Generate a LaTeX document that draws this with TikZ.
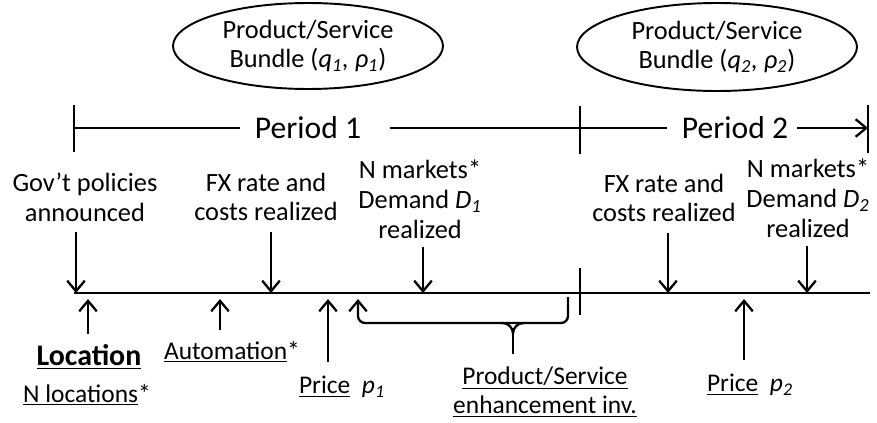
\documentclass[tikz,border=0pt]{standalone}
\usepackage{fontspec}
\setmainfont{Carlito}
\usetikzlibrary{shapes.geometric,arrows.meta}
\tikzstyle{bundle} = [draw, ellipse, line width=1.1pt, inner sep=0pt,
    minimum width=5.4cm, minimum height=1.72cm, align=center,
    font=\fontsize{15}{17}\selectfont]
\tikzstyle{event} = [align=center, inner sep=0pt, font=\fontsize{15}{17}\selectfont]
\tikzstyle{choice} = [align=center, inner sep=0pt, font=\fontsize{14.5}{16.5}\selectfont]
\tikzstyle{period} = [inner xsep=8pt, font=\fontsize{18}{20}\selectfont]
\tikzstyle{line} = [line width=1.3pt]
\tikzstyle{arr} = [line width=1.3pt, -{Straight Barb[length=6pt,width=10pt,line width=1.3pt]}]

\begin{document}
\begin{tikzpicture}[x=0.02cm, y=-0.02cm]
	\useasboundingbox (0,0) rectangle (877,423);

	% Bundles chosen in each period
	\node [bundle] (bun1) at (308,46) {Product/Service\\Bundle (\textit{q\textsubscript{1}, ρ\textsubscript{1}})};
	\node [bundle, minimum width=5.6cm, minimum height=1.76cm] (bun2) at (717,47)
		{Product/Service\\Bundle (\textit{q\textsubscript{2}, ρ\textsubscript{2}})};

	% Period bar
	\coordinate (p0) at (74,128);
	\coordinate (p1) at (580,128);
	\coordinate (p2) at (868,128);
	\node [period] (per1) at (308,128) {Period 1};
	\node [period] (per2) at (735,128) {Period 2};
	\draw [line] (p0) -- (per1);
	\draw [line] ([xshift=8pt]per1.east) -- (p1) -- (per2);
	\draw [arr] ([xshift=-3pt]per2.east) -- (p2);
	\draw [line] (p0) ++(0,-23) -- ++(0,47);
	\draw [line] (p1) ++(0,-22) -- ++(0,48);
	\draw [line] (p2) ++(0,-23) -- ++(0,48);

	% Time line
	\coordinate (t0) at (74,293);
	\coordinate (t1) at (870,293);
	\draw [line] (t0) -- (t1);
	\draw [line] (t0 -| p1) ++(0,-25) -- ++(0,47);

	% Events above the line
	\node [event] (gov) at (85,197) {Gov’t policies\\announced};
	\node [event] (fx1) at (266,197) {FX rate and\\costs realized};
	\node [event] (dem1) at (420,199) {N markets*\\Demand \textit{D\textsubscript{1}}\\realized};
	\node [event] (fx2) at (664,198) {FX rate and\\costs realized};
	\node [event] (dem2) at (808,198) {N markets*\\Demand \textit{D\textsubscript{2}}\\realized};

	\coordinate (egov) at (76,293);
	\coordinate (efx1) at (271,293);
	\coordinate (edem1) at (423,293);
	\coordinate (efx2) at (668,293);
	\coordinate (edem2) at (807,293);
	\draw [arr] ([yshift=-6pt]gov.south -| egov) -- (egov);
	\draw [arr] ([yshift=-6pt]fx1.south -| efx1) -- (efx1);
	\draw [arr] ([yshift=-5pt]dem1.south -| edem1) -- (edem1);
	\draw [arr] ([yshift=-6pt]fx2.south -| efx2) -- (efx2);
	\draw [arr] ([yshift=-5pt]dem2.south -| edem2) -- (edem2);

	% Choices below the line
	\node [choice, font=\fontsize{17}{19}\bfseries] (loc) at (89,357) {\underline{Location}};
	\node [choice] (nloc) at (87,395) {\underline{N locations}*};
	\node [choice] (auto) at (232,352) {\underline{Automation}*};
	\node [choice] (pr1) at (342,387) {\underline{Price}~ \textit{p\textsubscript{1}}};
	\node [choice] (enh) at (545,392) {\underline{Product/Service}\\\underline{enhancement inv.}};
	\node [choice] (pr2) at (750,385) {\underline{Price}~ \textit{p\textsubscript{2}}};

	\coordinate (cloc) at (88,299);
	\coordinate (cauto) at (220,299);
	\coordinate (cpr1) at (328,299);
	\coordinate (cpr2) at (744,299);
	\draw [arr] ([yshift=6pt]loc.north -| cloc) -- (cloc);
	\draw [arr] ([yshift=6pt]auto.north -| cauto) -- (cauto);
	\draw [arr] ([yshift=8pt]pr1.north -| cpr1) -- (cpr1);
	\draw [arr] ([yshift=8pt]pr2.north -| cpr2) -- (cpr2);

	% Brace for the enhancement investment
	\coordinate (brl) at (358,299);
	\coordinate (brr) at (568,297);
	\coordinate (brm) at (513,323);
	\draw [arr, rounded corners=4pt] (brr) -- (brr |- brm) -- (brl |- brm) -- (brl);
	\draw [line] ([xshift=-6pt]brm) to[out=0,in=90] ([yshift=-6pt]brm)
		to[out=90,in=180] ([xshift=6pt]brm);
	\draw [line] ([yshift=-6pt]brm) -- ([yshift=7pt]enh.north -| brm);
\end{tikzpicture}
\end{document}
